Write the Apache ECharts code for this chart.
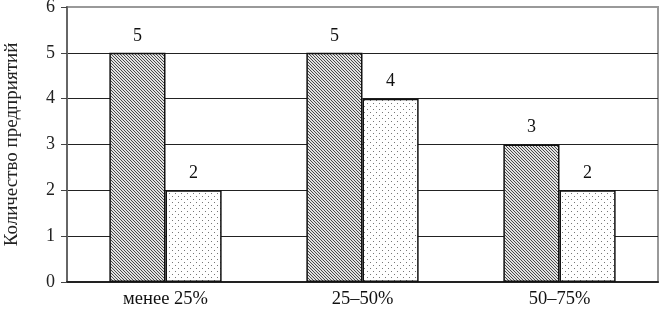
<!DOCTYPE html>
<html><head><meta charset="utf-8">
<script src="https://cdn.jsdelivr.net/npm/echarts@6/dist/echarts.min.js"></script>
<style>html,body{margin:0;padding:0;background:#fff}#c{width:660px;height:310px}</style>
</head><body><div id="c"></div>
<script>
const categories = ['менее 25%', '25–50%', '50–75%'];
const seriesA = [5, 5, 3];
const seriesB = [2, 4, 2];
const yTicks = [0, 1, 2, 3, 4, 5, 6];
const yName = 'Количество предприятий';

function hatch() {
  const c = document.createElement('canvas'); c.width = 3; c.height = 3;
  const g = c.getContext('2d');
  g.fillStyle = '#e2e2e2'; g.fillRect(0, 0, 3, 3);
  g.fillStyle = '#4a4a4a';
  for (let i = 0; i < 3; i++) { g.fillRect(i, i, 1, 1); }
  return c;
}
function dots() {
  const c = document.createElement('canvas'); c.width = 6; c.height = 6;
  const g = c.getContext('2d');
  g.fillStyle = '#fff'; g.fillRect(0, 0, 6, 6);
  g.fillStyle = '#777';
  g.fillRect(1, 1, 1, 1); g.fillRect(4, 4, 1, 1);
  return c;
}
const font = 'Liberation Serif';
const chart = echarts.init(document.getElementById('c'), null, {renderer: 'canvas'});
const lbl = {show: true, position: 'top', distance: 8, color: '#111', fontFamily: font, fontSize: 18};
chart.setOption({
  animation: false,
  grid: {left: 67, right: 2, top: 7, bottom: 28, outerBoundsMode: 'none', containLabel: false,
         show: true, borderColor: '#999', borderWidth: 2},
  xAxis: {
    type: 'category', data: categories,
    axisLine: {lineStyle: {color: '#222', width: 2}},
    axisTick: {show: false},
    axisLabel: {fontFamily: font, fontSize: 18.5, color: '#111', margin: 8}
  },
  yAxis: {
    type: 'value', min: yTicks[0], max: yTicks[yTicks.length - 1], interval: 1,
    name: yName, nameLocation: 'middle', nameGap: 45, nameRotate: 90,
    nameTextStyle: {fontFamily: font, fontSize: 19, color: '#222'},
    axisLine: {show: true, lineStyle: {color: '#666', width: 2}},
    axisTick: {show: true, length: 6, lineStyle: {color: '#444'}},
    axisLabel: {fontFamily: font, fontSize: 18, color: '#222', margin: 12},
    splitLine: {lineStyle: {color: ['#222', '#222', '#222', '#222', '#222', '#222', '#999'], width: 1}}
  },
  series: [
    {type: 'bar', data: seriesA, barGap: '0%', barCategoryGap: '43%',
     itemStyle: {color: {image: hatch(), repeat: 'repeat'}, borderColor: '#111', borderWidth: 1.5},
     label: lbl},
    {type: 'bar', data: seriesB,
     itemStyle: {color: {image: dots(), repeat: 'repeat'}, borderColor: '#111', borderWidth: 1.5},
     label: lbl}
  ]
});
</script></body></html>
